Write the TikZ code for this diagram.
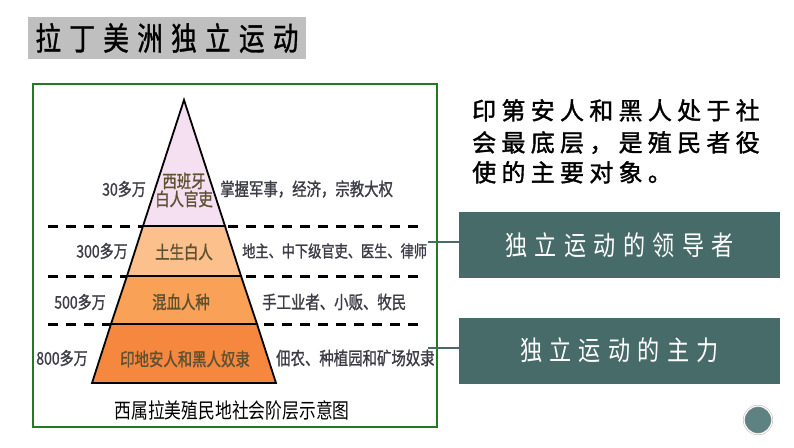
\documentclass[tikz,border=0pt]{standalone}
\usepackage{fontspec}
\setmainfont{Noto Sans CJK SC}
\newfontfamily\narrowfont[FakeStretch=0.8,FakeBold=1.2]{Noto Sans CJK SC}
\newfontfamily\notefont[LetterSpace=22,FakeBold=1.5]{Noto Sans CJK SC}
\newfontfamily\rolefont[LetterSpace=27,FakeStretch=0.82]{Noto Sans CJK SC}
\newfontfamily\headfont[LetterSpace=26,FakeStretch=0.8,FakeBold=1]{Noto Sans CJK SC}
\usetikzlibrary{positioning}
\definecolor{frame}{HTML}{237A23}
\definecolor{tealbox}{HTML}{476B69}
\definecolor{tealbtn}{HTML}{5E8282}
\definecolor{layerA}{HTML}{F5E0F2}
\definecolor{layerB}{HTML}{FBC08C}
\definecolor{layerC}{HTML}{F9A157}
\definecolor{layerD}{HTML}{F5873F}
\definecolor{inner}{HTML}{5E5131}
\definecolor{side}{HTML}{3C3C46}
\newcommand{\fs}[1]{\fontsize{#1}{#1}\selectfont}

\begin{document}
\begin{tikzpicture}[x=1pt, y=-1pt,
    layer/.style={draw=black, line width=1.8pt, line join=miter},
    sep/.style={line width=3pt, dash pattern=on 10pt off 8pt},
    count/.style={text=side, font=\narrowfont\fs{17.5}, inner sep=0pt},
    duty/.style={text=side, font=\narrowfont\fs{18}, anchor=west, inner sep=0pt},
    rank/.style={text=inner, font=\narrowfont\fs{18}, align=center, inner sep=0pt},
    rolebox/.style={fill=tealbox, text=white, font=\rolefont\fs{27}, minimum width=321pt, minimum height=66pt, inner sep=0pt},
    link/.style={draw=tealbox, line width=1.5pt}
  ]
    \useasboundingbox (0,0) rectangle (794,447);

    % title
    \node[fill=gray!50, minimum width=278pt, minimum height=42pt, inner sep=0pt, font=\headfont\fs{32}] (head) at (167,38) {拉丁美洲独立运动};

    % frame with the pyramid
    \draw[frame, line width=2pt] (33,84) rectangle (437,427);
    \draw[sep] (48,226) -- (418,226);
    \draw[sep] (48,276) -- (418,276);
    \draw[sep] (48,324) -- (418,324);

    \filldraw[layer, fill=layerA] (184,100) -- (225,226) -- (143,226) -- cycle;
    \filldraw[layer, fill=layerB] (143,226) -- (225,226) -- (241,276) -- (127,276) -- cycle;
    \filldraw[layer, fill=layerC] (127,276) -- (241,276) -- (257,324) -- (111,324) -- cycle;
    \filldraw[layer, fill=layerD] (111,324) -- (257,324) -- (276,383) -- (92,383) -- cycle;

    \node[rank] (spain) at (184,190) {西班牙\\白人官吏};
    \node[rank] (creole) at (184,252) {土生白人};
    \node[rank] (mestizo) at (181,302) {混血人种};
    \node[rank] (slaves) at (185,359) {印地安人和黑人奴隶};

    \node[count] (n1) at (124,189) {30多万};
    \node[count] (n2) at (102,251) {300多万};
    \node[count] (n3) at (80,302) {500多万};
    \node[count] (n4) at (62,358) {800多万};

    \node[duty] (d1) at (220,189) {掌握军事，经济，宗教大权};
    \node[duty, font=\narrowfont\fs{16.5}] (d2) at (242,251) {地主、中下级官吏、医生、律师};
    \node[duty] (d3) at (262,302) {手工业者、小贩、牧民};
    \node[duty] (d4) at (276,358) {佃农、种植园和矿场奴隶};

    \node[font=\fs{21}\addfontfeature{FakeStretch=0.8}, inner sep=0pt] (caption) at (232,411) {西属拉美殖民地社会阶层示意图};

    % right side
    \node[anchor=north west, align=left, inner sep=0pt, font=\notefont\fs{24}, text=black] (note) at (472,99)
      {印第安人和黑人处于社\\[8pt]会最底层，是殖民者役\\[6pt]使的主要对象。};
    \node[rolebox] (lead) at (619.5,245) {独立运动的领导者};
    \node[rolebox] (force) at (619.5,350.5) {独立运动的主力};

    \coordinate (p1) at (428,242);
    \coordinate (p2) at (428,348);
    \draw[link] (p1) -- (p1 -| lead.west);
    \draw[link] (p2) -- (p2 -| force.west);

    \node[circle, fill=tealbtn, draw=gray!70, double=white, double distance=1.2pt, minimum size=28pt] (btn) at (758,420) {};
  \end{tikzpicture}
\end{document}
